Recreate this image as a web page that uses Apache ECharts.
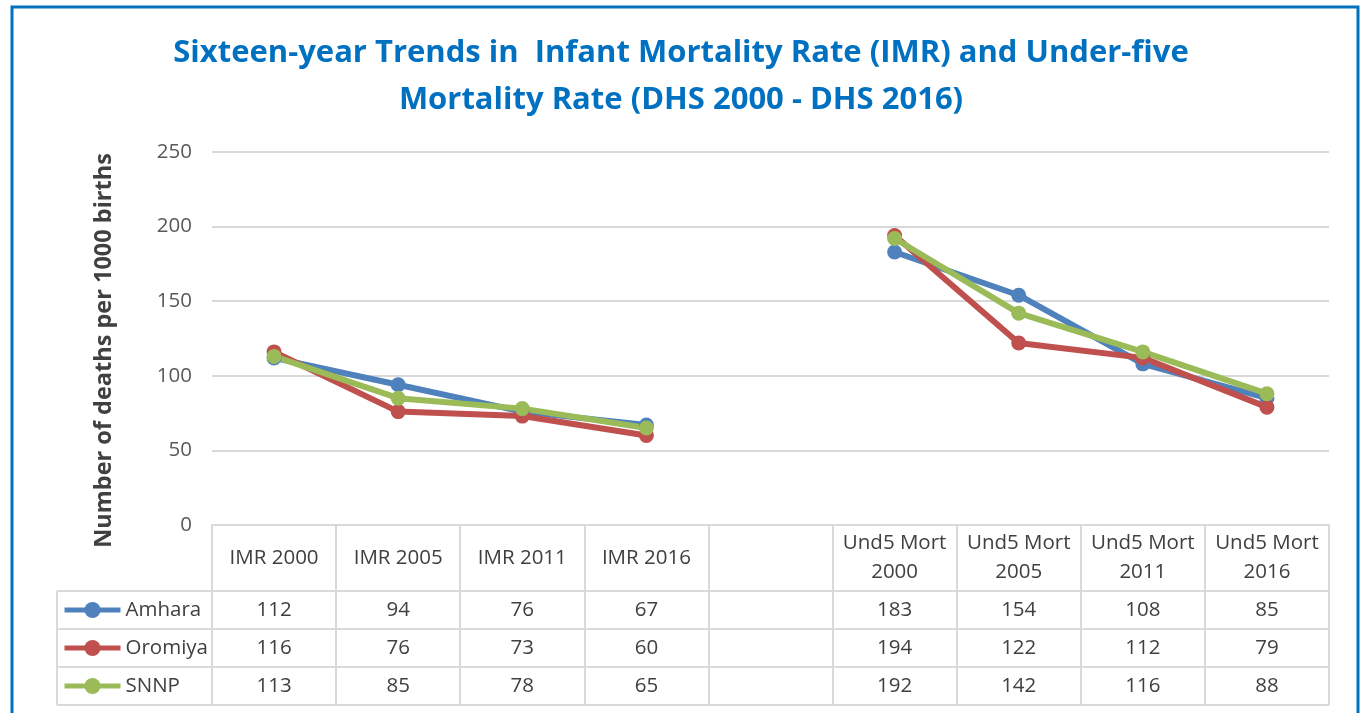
<!DOCTYPE html>
<html>
<head>
<meta charset="utf-8">
<script src="https://cdn.jsdelivr.net/npm/echarts@6/dist/echarts.min.js"></script>
<style>
  html, body { margin: 0; padding: 0; background: #fff; }
  #chart { width: 1362px; height: 713px; }
</style>
</head>
<body>
<div id="chart"></div>
<script>
// categories (blank slot keeps the gap between IMR and under-five)
const categories = ['IMR 2000', 'IMR 2005', 'IMR 2011', 'IMR 2016', '',
  'Und5 Mort\n2000', 'Und5 Mort\n2005', 'Und5 Mort\n2011', 'Und5 Mort\n2016']
const regions = ['Amhara', 'Oromiya', 'SNNP']
const amhara = [112, 94, 76, 67, null, 183, 154, 108, 85]
const oromiya = [116, 76, 73, 60, null, 194, 122, 112, 79]
const snnp = [113, 85, 78, 65, null, 192, 142, 116, 88]
const yTicks = [0, 50, 100, 150, 200, 250]

const rows = [amhara, oromiya, snnp]
const colors = ['#4f81bd', '#c0504d', '#9bbb59']
const font = '"Open Sans", sans-serif'
const textColor = '#404040'
const lineColor = '#d9d9d9'

// plot area / table layout
const gLeft = 212, gRight = 1329, gTop = 152, gBottom = 525
const headH = 66, rowH = 38, tableLeft = 57

const chart = echarts.init(document.getElementById('chart'))

const tableAxes = rows.map((vals, i) => ({
  type: 'category',
  position: 'bottom',
  data: categories,
  axisLine: {show: false},
  axisTick: {show: false},
  axisLabel: {
    interval: 0,
    margin: headH + rowH * i + rowH / 2,
    verticalAlign: 'middle',
    fontFamily: font,
    fontSize: 20.5,
    color: textColor,
    formatter: (v, idx) => vals[idx] == null ? '' : String(vals[idx]),
  },
}))

const tableLines = []
for (let i = 0; i <= 3; i++) {
  const y = gBottom + headH + rowH * i
  tableLines.push({
    type: 'line',
    shape: {x1: tableLeft, y1: y, x2: gRight, y2: y},
    style: {stroke: lineColor, lineWidth: 2},
  })
}
tableLines.push({
  type: 'line',
  shape: {x1: tableLeft, y1: gBottom + headH, x2: tableLeft, y2: gBottom + headH + rowH * 3},
  style: {stroke: lineColor, lineWidth: 2},
})

chart.setOption({
  animation: false,
  title: {
    text: 'Sixteen-year Trends in  Infant Mortality Rate (IMR) and Under-five\nMortality Rate (DHS 2000 - DHS 2016)',
    left: 'center',
    top: 25,
    textStyle: {
      fontFamily: font,
      fontSize: 31,
      fontWeight: 'bold',
      color: '#0070c0',
      lineHeight: 47,
    },
  },
  legend: {
    orient: 'vertical',
    left: tableLeft + 5,
    top: gBottom + headH + 7,
    padding: 0,
    itemGap: 14,
    itemWidth: 56,
    itemHeight: 20,
    lineStyle: {width: 5},
    textStyle: {fontFamily: font, fontSize: 20.5, color: textColor, lineHeight: 24},
    data: regions,
  },
  grid: {
    left: gLeft,
    right: 1362 - gRight,
    top: gTop,
    bottom: 713 - gBottom,
  },
  xAxis: [{
    type: 'category',
    position: 'bottom',
    data: categories,
    axisLine: {lineStyle: {color: lineColor, width: 2}},
    axisTick: {show: true, interval: 0, length: headH + rowH * 3, lineStyle: {color: lineColor, width: 2}},
    axisLabel: {
      interval: 0,
      margin: headH / 2,
      verticalAlign: 'middle',
      fontFamily: font,
      fontSize: 20.5,
      lineHeight: 29,
      color: textColor,
    },
  }].concat(tableAxes),
  yAxis: {
    type: 'value',
    min: yTicks[0],
    max: yTicks[yTicks.length - 1],
    interval: 50,
    name: 'Number of deaths per 1000 births',
    nameLocation: 'middle',
    nameRotate: 90,
    nameGap: 96,
    nameTextStyle: {
      fontFamily: font, fontSize: 23.5, fontWeight: 'bold', color: textColor,
      padding: [0, 24, 0, 0],
    },
    axisLine: {show: false},
    axisTick: {show: false},
    axisLabel: {fontFamily: font, fontSize: 20.5, color: '#595959', margin: 20},
    splitLine: {lineStyle: {color: lineColor, width: 2}},
  },
  graphic: tableLines.concat([{
    type: 'rect',
    shape: {x: 12, y: 7, width: 1346, height: 720},
    style: {fill: 'none', stroke: '#0070c0', lineWidth: 3},
  }]),
  series: regions.map((name, i) => ({
    name: name,
    type: 'line',
    xAxisIndex: 0,
    data: rows[i],
    connectNulls: false,
    symbol: 'circle',
    symbolSize: 15,
    color: colors[i],
    lineStyle: {width: 6, color: colors[i]},
    itemStyle: {color: colors[i]},
  })),
})
</script>
</body>
</html>
